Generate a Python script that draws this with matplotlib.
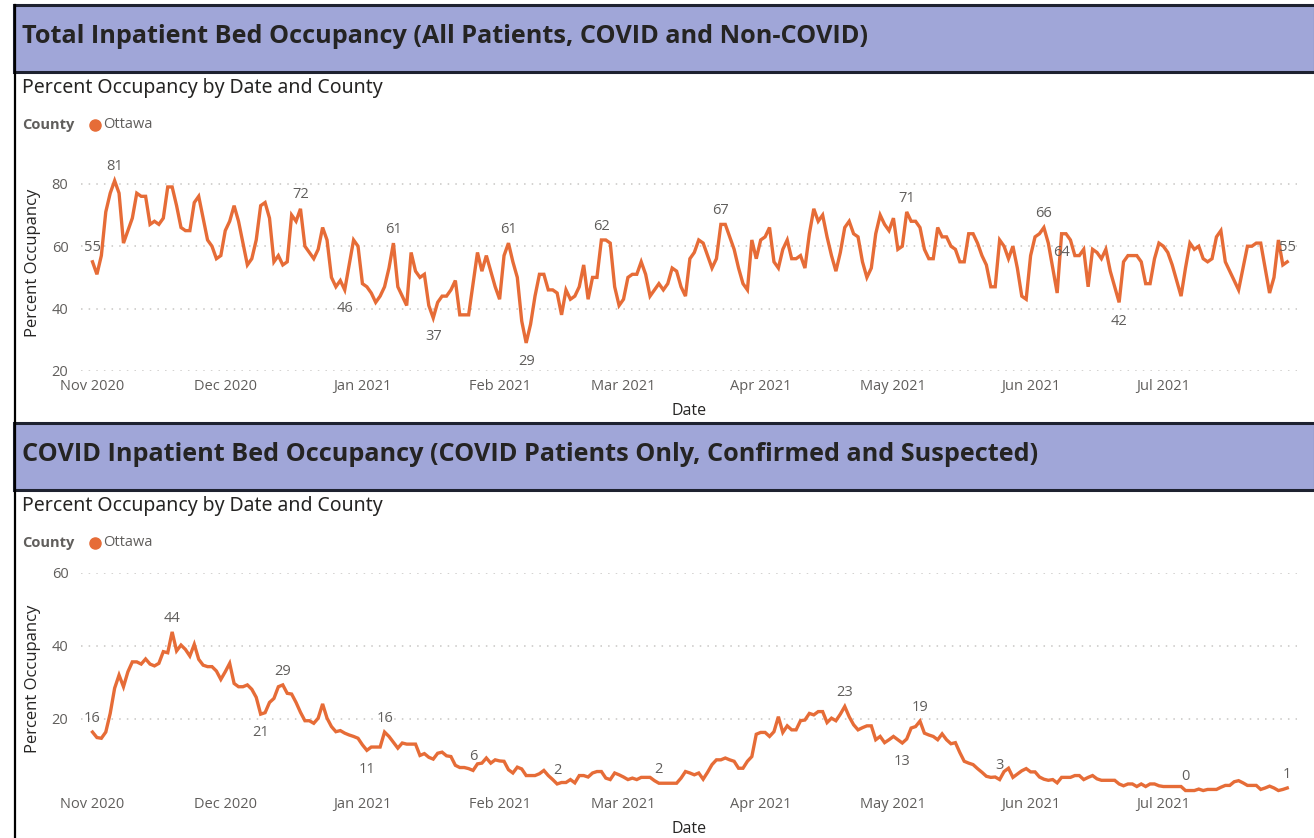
import matplotlib
matplotlib.use("Agg")
import matplotlib.pyplot as plt
import matplotlib.dates as mdates
from matplotlib.patches import Rectangle
from matplotlib.lines import Line2D
import pandas as pd

# daily values, starting 1 Nov 2020
start_date = "2020-11-01"

total_occupancy = [
    55, 51, 57, 71, 77, 81, 77, 61, 65, 69,
    77, 76, 76, 67, 68, 67, 69, 79, 79, 73,
    66, 65, 65, 74, 76, 69, 62, 60, 56, 57,
    65, 68, 73, 68, 61, 54, 56, 62, 73, 74,
    69, 55, 57, 54, 55, 70, 68, 72, 60, 58,
    56, 59, 66, 62, 50, 47, 49, 46, 54, 62,
    60, 48, 47, 45, 42, 44, 47, 53, 61, 47,
    44, 41, 58, 52, 50, 51, 41, 37, 42, 44,
    44, 46, 49, 38, 38, 38, 48, 58, 52, 57,
    52, 47, 43, 57, 61,
    55, 50, 36, 29, 35, 44, 51, 51, 46, 46,
    45, 38, 46, 43, 44, 47, 54, 43, 50, 50,
    62, 62, 61, 47, 41, 43, 50, 51, 51, 55,
    51, 44, 46, 48, 46, 48, 53, 52, 47, 44,
    56, 58, 62, 61, 57, 53, 56, 67, 67, 63,
    59, 53, 48, 46, 62, 56, 62, 63, 66, 55,
    53, 59, 62, 56, 56, 57, 53, 64, 72, 68,
    70, 63, 57, 52, 58, 66, 68, 64, 63, 55,
    50, 53, 64, 70, 67, 65, 69, 59, 60, 71,
    68, 68, 66, 59, 56,
    56, 66, 63, 63, 60, 59, 55, 55, 64, 64,
    61, 57, 54, 47, 47, 62, 60, 56, 60, 53,
    44, 43, 57, 63, 64, 66, 61, 53, 45, 64,
    64, 62, 57, 57, 59, 47, 59, 58, 56, 59,
    52, 47, 42, 55, 57, 57, 57, 55, 48, 48,
    56, 61, 60, 58, 54, 49, 44, 53, 61, 59,
    60, 56, 55, 56, 63, 65, 55, 52, 49, 46,
    53, 60, 60, 61, 61, 53, 45, 50, 62, 54,
    55,
]

covid_occupancy = [
    16.4, 14.9, 14.7, 16.4, 21.5, 28.4, 32.0, 28.8, 32.9, 35.6,
    35.6, 35.0, 36.4, 35.0, 34.5, 35.2, 38.4, 38.1, 43.8, 38.6,
    40.2, 39.0, 37.2, 40.4, 36.3, 34.7, 34.3, 34.3, 33.1, 30.8,
    32.9, 35.2, 29.7, 28.8, 28.8, 29.3, 28.1, 25.9, 21.3, 21.7,
    24.5, 25.6, 28.8, 29.3, 27.0, 26.8, 24.5, 21.8, 19.5, 19.5,
    18.8, 20.2, 24.1, 20.2, 17.9, 16.5, 16.8, 16.1, 15.6, 15.2,
    14.7, 12.9, 11.4, 12.3, 12.3, 12.3, 16.4, 15.2, 13.6, 12.0,
    13.4, 13.1, 13.1, 13.1, 10.0, 10.5, 9.5, 9.0, 10.6, 10.9,
    9.9, 9.7, 7.3, 6.7, 6.7, 6.4, 5.9, 7.7, 7.9, 9.3,
    7.9, 8.8, 8.5, 8.4, 6.1,
    5.2, 6.8, 6.3, 4.5, 4.5, 4.5, 5.0, 5.9, 4.5, 3.4,
    2.2, 2.6, 2.6, 3.4, 2.5, 4.5, 4.5, 4.1, 5.2, 5.6,
    5.6, 3.8, 3.4, 5.2, 4.7, 4.1, 3.4, 3.8, 3.4, 4.0,
    4.0, 4.0, 3.1, 2.4, 2.4, 2.4, 2.4, 2.4, 3.8, 5.6,
    5.2, 4.7, 5.2, 3.5, 5.4, 7.5, 8.8, 8.8, 9.3, 8.8,
    8.4, 6.5, 6.5, 8.4, 9.7, 15.8, 16.3, 16.3, 15.2, 16.5,
    20.6, 16.3, 18.1, 17.0, 17.0, 19.5, 19.7, 21.5, 21.1, 22.0,
    22.0, 19.0, 20.2, 19.5, 21.3, 23.4, 20.6, 18.4, 17.0, 17.6,
    18.1, 18.1, 14.3, 15.2, 13.5, 14.3, 15.2, 14.3, 13.4, 14.5,
    17.5, 17.9, 19.4, 16.1, 15.6,
    15.2, 14.3, 15.9, 14.3, 13.2, 13.5, 10.8, 8.4, 7.9, 7.5,
    6.4, 5.4, 4.3, 4.0, 4.1, 3.4, 5.6, 6.5, 4.0, 4.9,
    5.8, 6.4, 5.5, 5.5, 4.1, 3.5, 3.2, 3.4, 2.5, 4.0,
    4.0, 4.0, 4.5, 4.5, 3.4, 4.0, 4.5, 3.6, 3.2, 3.2,
    3.2, 3.2, 2.2, 1.7, 2.2, 2.2, 1.5, 2.2, 1.5, 2.2,
    2.2, 1.7, 1.5, 1.5, 1.5, 1.5, 1.5, 0.4, 0.4, 0.4,
    0.8, 0.4, 0.7, 0.7, 0.7, 1.3, 1.8, 1.8, 2.8, 3.1,
    2.5, 1.8, 1.8, 1.8, 0.7, 1.1, 1.6, 1.1, 0.4, 0.7,
    1.1,
]

# day indexes that carry a data label (Power BI auto labels)
total_labels_above = [0, 5, 47, 68, 94, 115, 142, 184, 215, 270]
total_labels_below = [57, 77, 98, 219, 232]
covid_labels_above = [0, 18, 43, 66, 86, 105, 128, 170, 187, 205, 247, 270]
covid_labels_below = [38, 62, 183]

total_title = "Total Inpatient Bed Occupancy (All Patients, COVID and Non-COVID)"
covid_title = "COVID Inpatient Bed Occupancy (COVID Patients Only, Confirmed and Suspected)"
subtitle = "Percent Occupancy by Date and County"
county = "Ottawa"

W, H = 1314, 838
ORANGE = "#E66C37"
LAVENDER = "#A0A6D8"
BORDER = "#1E2230"
DARK = "#252423"
GREY = "#605E5C"

fig = plt.figure(figsize=(W / 100, H / 100), dpi=100)


def fx(x):
    return x / W


def fy(y):
    return 1 - y / H


def draw_panel(top, title, values, above, below, ylim, yticks, ax_top, ax_bottom, xpad):
    # header band
    fig.add_artist(Rectangle((fx(14), fy(top + 67)), fx(W - 13), 67 / H,
                             facecolor=LAVENDER, edgecolor=BORDER, linewidth=2.2,
                             transform=fig.transFigure))
    fig.text(fx(22), fy(top + 31.5), title, fontsize=18.2, fontweight="bold",
             color=DARK, va="center", ha="left", family="Open Sans")
    fig.text(fx(22), fy(top + 82.5), subtitle, fontsize=14, color=DARK,
             va="center", ha="left", family="Noto Sans")
    fig.text(fx(22), fy(top + 120), "County", fontsize=10.5, fontweight="bold",
             color=GREY, va="center", ha="left", family="Open Sans")
    fig.add_artist(Line2D([fx(94.5)], [fy(top + 120)], marker="o", markersize=8,
                          color=ORANGE, transform=fig.transFigure))
    fig.text(fx(103), fy(top + 120), county, fontsize=10.5, color=GREY,
             va="center", ha="left", family="Open Sans")

    ax = fig.add_axes([fx(81), fy(ax_bottom), fx(1297 - 81), (ax_bottom - ax_top) / H])
    dates = pd.date_range(start_date, periods=len(values), freq="D")
    ax.plot(dates, values, color=ORANGE, linewidth=2.4, solid_joinstyle="miter", clip_on=False)

    t0 = pd.Timestamp(start_date)
    ax.set_xlim(mdates.date2num(t0 - pd.Timedelta(days=2.6)),
                mdates.date2num(t0 + pd.Timedelta(days=272.2)))
    ax.set_ylim(*ylim)
    ax.set_yticks(yticks)
    months = pd.date_range("2020-11-01", "2021-07-01", freq="MS")
    ax.set_xticks(months)
    ax.xaxis.set_major_formatter(mdates.DateFormatter("%b %Y"))
    ax.tick_params(length=0, labelsize=10.5, labelcolor=GREY)
    ax.tick_params(axis="y", pad=9)
    ax.tick_params(axis="x", pad=xpad)
    for lab in ax.get_xticklabels() + ax.get_yticklabels():
        lab.set_family("Open Sans")
    ax.grid(axis="y", linestyle=(0, (1, 4)), color="#C8C6C4", linewidth=1.1)
    for s in ax.spines.values():
        s.set_visible(False)
    ax.patch.set_alpha(0)

    for i in above:
        ax.annotate(f"{round(values[i])}", (dates[i], values[i]), xytext=(0, 10),
                    textcoords="offset points", ha="center", va="center",
                    fontsize=10.5, color=GREY, family="Open Sans")
    for i in below:
        ax.annotate(f"{round(values[i])}", (dates[i], values[i]), xytext=(0, -13.5),
                    textcoords="offset points", ha="center", va="center",
                    fontsize=10.5, color=GREY, family="Open Sans")

    mid = (ax_top + ax_bottom) / 2 - 4
    fig.text(fx(33), fy(mid), "Percent Occupancy", rotation=90, fontsize=12,
             color=DARK, va="center", ha="center", family="Open Sans")
    return ax


draw_panel(5, total_title, total_occupancy, total_labels_above, total_labels_below,
           (20, 87), [20, 40, 60, 80], 162, 371, 6)
fig.text(fx(689), fy(410.5), "Date", fontsize=11.5, color=DARK, ha="center", va="center",
         family="Open Sans")

draw_panel(423, covid_title, covid_occupancy, covid_labels_above, covid_labels_below,
           (0, 60), [20, 40, 60], 572.7, 792, 3.5)
fig.text(fx(689), fy(828.5), "Date", fontsize=11.5, color=DARK, ha="center", va="center",
         family="Open Sans")

# left frame line
fig.add_artist(Line2D([fx(14.5), fx(14.5)], [fy(5), fy(H)], color="black",
                      linewidth=1.6, transform=fig.transFigure))

fig.savefig("out.png", dpi=100)
